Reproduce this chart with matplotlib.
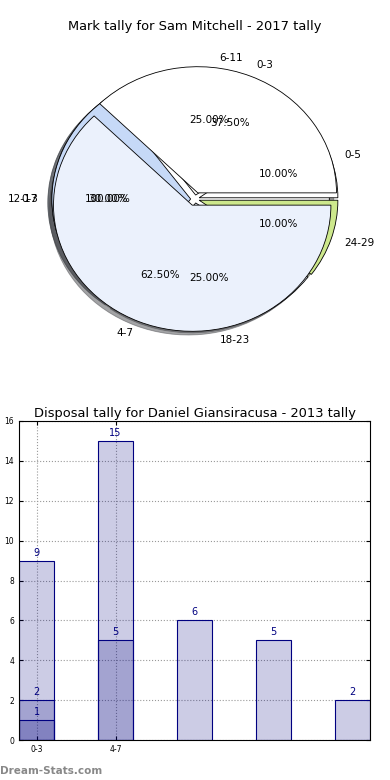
import matplotlib
matplotlib.use("Agg")
import matplotlib.pyplot as plt
import numpy as np

# ---- Pie data (three overlaid series) ----
pie1_labels = ["0-3", "4-7"]
pie1_values = [3, 5]
pie1_colors = ["#FFFFFF", "#EBF1FC"]

pie2_labels = ["0-5", "6-11", "12-17", "18-23", "24-29"]
pie2_values = [1, 2.5, 3, 2.5, 1]
pie2_colors = ["#FFFFFF", "#FFFFFF", "#C6D9F7", "#EBF1FC", "#CDE88C"]

pie3_labels = ["0-3"]
pie3_values = [1]
pie3_colors = ["#FFFFFF"]

# ---- Bar data (three overlaid series) ----
bar_ticklabels = ["0-3", "4-7"]
barA_values = [9, 15, 6, 5, 2]
barB_values = [2, 5]
barC_values = [1]

fig = plt.figure(figsize=(3.9, 7.8), dpi=100)

# Pie axes
ax1 = fig.add_axes([12.5/390, 1 - 365/780, 365/390, 332/780])
for vals, labs, cols, expl in [
    (pie3_values, pie3_labels, pie3_colors, 0.03),
    (pie2_values, pie2_labels, pie2_colors, 0.03),
    (pie1_values, pie1_labels, pie1_colors, 0.05),
]:
    wedges, texts, autotexts = ax1.pie(
        vals, labels=labs, colors=cols, autopct="%.2f%%",
        explode=[expl] * len(vals), shadow=True, startangle=0, radius=0.95,
        wedgeprops=dict(edgecolor="black", linewidth=0.6),
        textprops=dict(fontsize=7.5))
ax1.set_aspect("auto")
ax1.set_xlim(-1.25, 1.25)
ax1.set_ylim(-1.25, 1.25)
ax1.set_title("Mark tally for Sam Mitchell - 2017 tally", fontsize=9.4, pad=-7)

# Bar axes
ax2 = fig.add_axes([19/390, 1 - 740/780, 351/390, 319/780])
face = (0, 0, 0.5, 0.2)
w = 0.45
for vals in [barA_values, barB_values, barC_values]:
    x = np.arange(len(vals))
    ax2.bar(x, vals, width=w, facecolor=face, edgecolor="navy", linewidth=0.8, zorder=2)
    for xi, v in zip(x, vals):
        ax2.text(xi, v + 0.15, str(v), ha="center", va="bottom", color="navy", fontsize=7, zorder=3)
ax2.set_xlim(-w/2, 4 + w/2)
ax2.set_ylim(0, 16)
ax2.set_yticks(np.arange(0, 17, 2))
ax2.set_xticks(np.arange(len(bar_ticklabels)))
ax2.set_xticklabels(bar_ticklabels)
ax2.tick_params(axis="both", labelsize=5.5, direction="in", top=True, right=True, length=3)
ax2.grid(True, linestyle=":", color="#999999", linewidth=0.8, zorder=0)
ax2.set_axisbelow(True)
ax2.set_title("Disposal tally for Daniel Giansiracusa - 2013 tally", fontsize=9.4, pad=3)

fig.text(0.0, 1 - 771/780, "Dream-Stats.com", fontsize=7.5, color="#888888", fontweight="bold",
         va="center", ha="left")

fig.savefig("out.png", dpi=100)
